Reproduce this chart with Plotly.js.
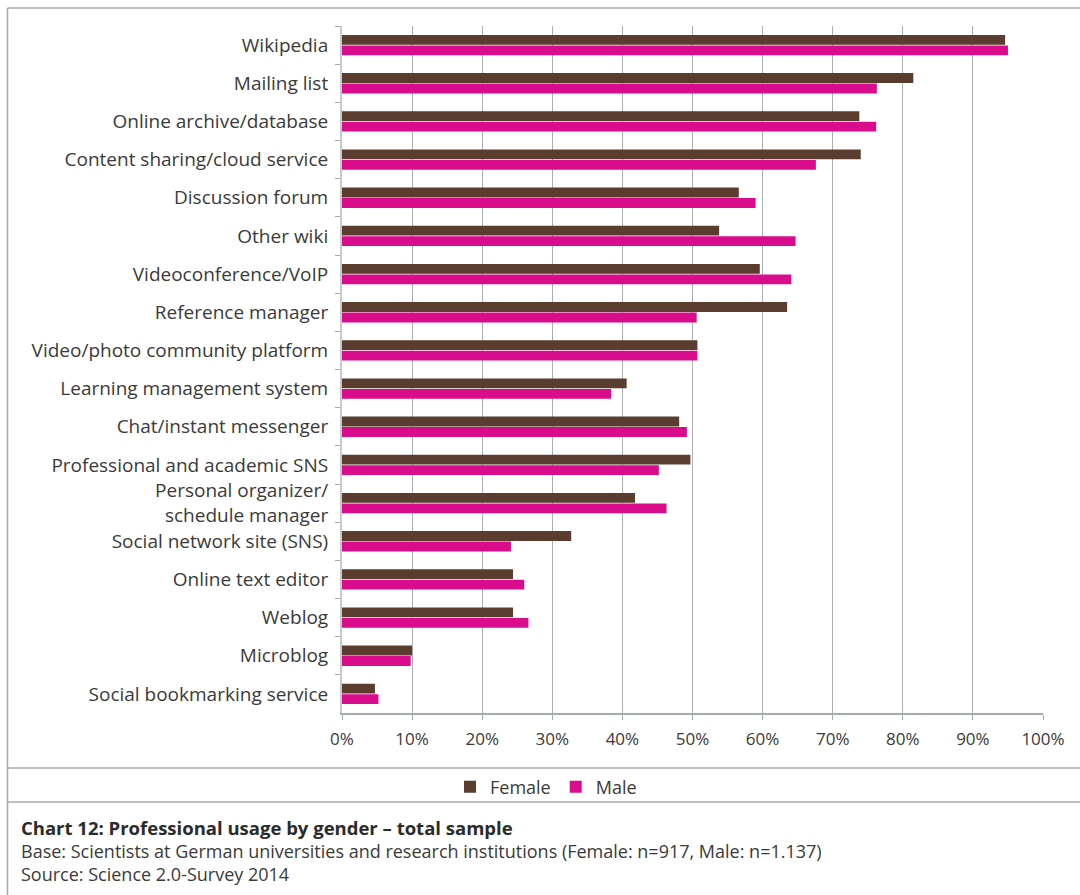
<!DOCTYPE html>
<html>
<head>
<meta charset="utf-8">
<script src="https://cdn.plot.ly/plotly-3.0.1.min.js"></script>
<style>
  html, body { margin: 0; padding: 0; background: #ffffff; }
  #chart { width: 1080px; height: 895px; }
</style>
</head>
<body>
<div id="chart"></div>
<script>
const categories = [
  "Wikipedia",
  "Mailing list",
  "Online archive/database",
  "Content sharing/cloud service",
  "Discussion forum",
  "Other wiki",
  "Videoconference/VoIP",
  "Reference manager",
  "Video/photo community platform",
  "Learning management system",
  "Chat/instant messenger",
  "Professional and academic SNS",
  "Personal organizer/<br>schedule manager",
  "Social network site (SNS)",
  "Online text editor",
  "Weblog",
  "Microblog",
  "Social bookmarking service"
];
const femaleValues = [94.6, 81.5, 73.8, 74.0, 56.6, 53.8, 59.6, 63.5, 50.7, 40.6, 48.1, 49.7, 41.8, 32.7, 24.4, 24.4, 10.0, 4.7];
const maleValues   = [95.0, 76.3, 76.2, 67.6, 59.0, 64.7, 64.1, 50.6, 50.7, 38.4, 49.2, 45.2, 46.3, 24.1, 26.0, 26.6, 9.8, 5.2];
const xTickValues = [0, 10, 20, 30, 40, 50, 60, 70, 80, 90, 100];
const xTickLabels = ["0%", "10%", "20%", "30%", "40%", "50%", "60%", "70%", "80%", "90%", "100%"];
const seriesNames = ["Female", "Male"];
const captionTitle = "Chart 12: Professional usage by gender – total sample";
const captionBase = "Base: Scientists at German universities and research institutions (Female: n=917, Male: n=1.137)";
const captionSource = "Source: Science 2.0-Survey 2014";

// Layout geometry (pixels)
const W = 1080, H = 895;
const M = { l: 342, r: 37, t: 26, b: 182 };
const plotW = W - M.l - M.r;
const plotH = H - M.t - M.b;
const px = x => (x - M.l) / plotW;
const py = y => (H - M.b - y) / plotH;

const frameColor = "#a3abab";
const textColor = "#3a3a3a";
const font = "'Open Sans', 'DejaVu Sans', sans-serif";

const traces = [
  {
    type: "bar", orientation: "h", name: seriesNames[0],
    y: categories, x: femaleValues,
    marker: { color: "#5a3d2e" },
    hoverinfo: "x+y"
  },
  {
    type: "bar", orientation: "h", name: seriesNames[1],
    y: categories, x: maleValues,
    marker: { color: "#d90d8c" },
    hoverinfo: "x+y"
  }
];

const line = (x0, y0, x1, y1, w) => ({
  type: "line", xref: "paper", yref: "paper",
  x0: px(x0), y0: py(y0), x1: px(x1), y1: py(y1),
  line: { color: frameColor, width: w || 1.5 }, layer: "above"
});

const layout = {
  width: W, height: H,
  margin: M,
  paper_bgcolor: "#ffffff",
  plot_bgcolor: "#ffffff",
  font: { family: font, color: textColor, size: 18 },
  barmode: "group",
  bargap: 0.45,
  bargroupgap: 0.06,
  showlegend: true,
  legend: {
    orientation: "h",
    xref: "container", yref: "container",
    x: 546 / W, y: 1 - 787 / H,
    xanchor: "center", yanchor: "middle",
    bgcolor: "rgba(0,0,0,0)",
    font: { family: font, size: 18, color: textColor },
    itemwidth: 30,
    traceorder: "normal"
  },
  xaxis: {
    range: [0, 100],
    tickvals: xTickValues,
    ticktext: xTickLabels,
    showgrid: true,
    gridcolor: "#a9b1b2",
    gridwidth: 1,
    zeroline: false,
    showline: true,
    linecolor: "#a3abab",
    linewidth: 1.5,
    ticks: "outside",
    ticklen: 5,
    tickcolor: "#a3abab",
    ticklabelstandoff: 5,
    tickfont: { family: font, size: 17, color: textColor },
    fixedrange: true
  },
  yaxis: {
    type: "category",
    autorange: "reversed",
    showgrid: false,
    zeroline: false,
    showline: true,
    linecolor: "#c5cbcb",
    linewidth: 2,
    ticks: "outside",
    tickson: "boundaries",
    ticklen: 5,
    tickcolor: "#a3abab",
    ticklabelstandoff: 8,
    tickfont: { family: font, size: 19, color: textColor },
    fixedrange: true
  },
  shapes: [
    line(7.5, 8, W, 8),
    line(7.5, 8, 7.5, H),
    line(7.5, 768, W, 768),
    line(7.5, 802, W, 802)
  ],
  annotations: [
    {
      xref: "paper", yref: "paper", x: px(19), y: py(827),
      xanchor: "left", yanchor: "middle", showarrow: false,
      text: "<b>" + captionTitle + "</b>",
      font: { family: font, size: 18.5, color: "#2b2b2b" }
    },
    {
      xref: "paper", yref: "paper", x: px(19), y: py(851),
      xanchor: "left", yanchor: "middle", showarrow: false,
      text: captionBase,
      font: { family: font, size: 18, color: textColor }
    },
    {
      xref: "paper", yref: "paper", x: px(19), y: py(874),
      xanchor: "left", yanchor: "middle", showarrow: false,
      text: captionSource,
      font: { family: font, size: 18, color: textColor }
    }
  ]
};

Plotly.newPlot("chart", traces, layout, { displayModeBar: false, staticPlot: true });
</script>
</body>
</html>
